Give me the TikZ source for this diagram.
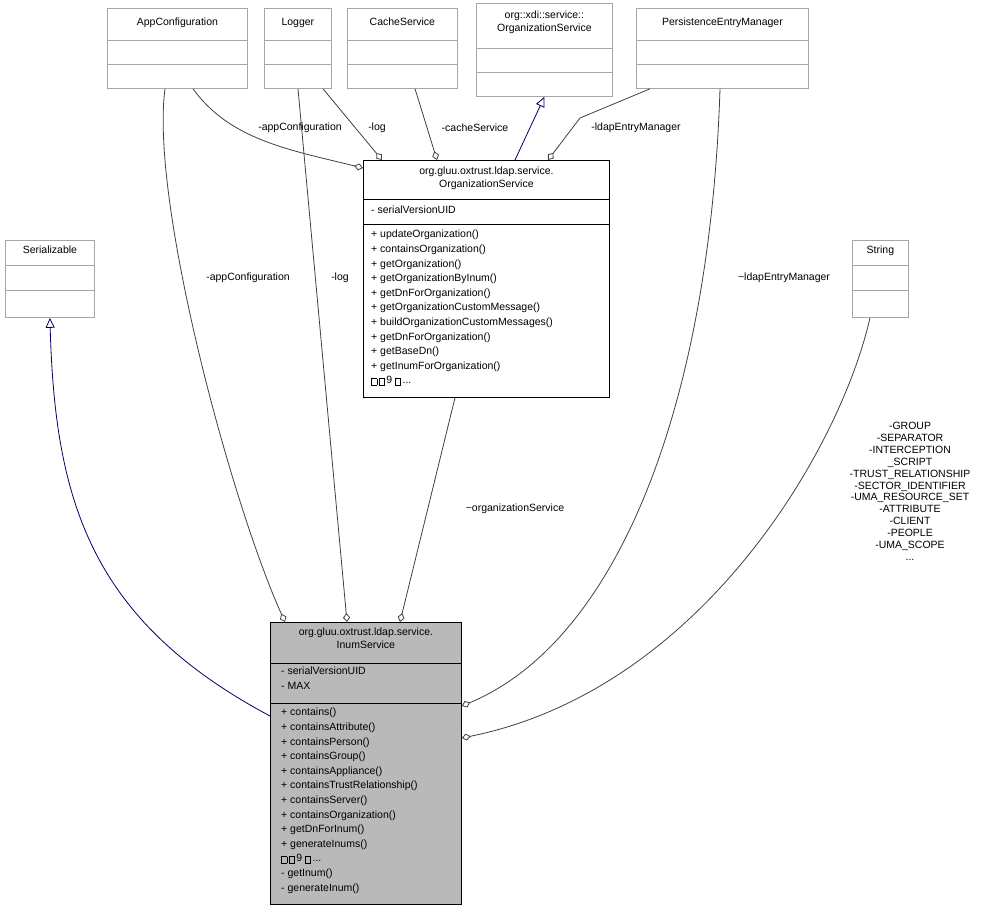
\documentclass[tikz,border=0pt]{standalone}
\usepackage{fontspec}
\setmainfont{Liberation Sans}
\usetikzlibrary{arrows.meta,positioning,calc}
\tikzset{
cls/.style={draw=gray!70,line width=0.8pt,anchor=north west,inner sep=0pt},
mcls/.style={draw=black,line width=0.8pt,anchor=north west,inner sep=0pt},
ttl/.style={anchor=north,align=center,inner sep=1pt,font=\fontsize{10.5}{12.5}\selectfont},
mem/.style={anchor=north west,align=left,inner sep=1pt,font=\fontsize{10.5}{14.6}\selectfont},
lbl/.style={align=center,inner sep=1pt,font=\fontsize{10.5}{11.9}\selectfont},
agg/.style={draw=black!75,line width=0.8pt,{Diamond[open,length=9pt,width=7pt]}-},
inh/.style={draw=blue!40!black,line width=0.8pt,{Triangle[open,length=10pt,width=9pt]}-},
}
\newcommand{\gl}{\fbox{\rule{0pt}{4pt}\hspace{3pt}}\,}
\setlength{\fboxsep}{1pt}
\setlength{\fboxrule}{0.4pt}
\begin{document}
\begin{tikzpicture}[x=1pt,y=-1pt]
\useasboundingbox (0,0) rectangle (990,911);
% classes on the top row
\node[cls,minimum width=140,minimum height=80] (app) at (107,8) {};
\node[cls,minimum width=67,minimum height=80] (logger) at (264,8) {};
\node[cls,minimum width=110,minimum height=80] (cache) at (347,8) {};
\node[cls,minimum width=136,minimum height=93] (xdi) at (476,3) {};
\node[cls,minimum width=172,minimum height=80] (pem) at (636,8) {};
\node[cls,minimum width=89,minimum height=77] (ser) at (5,240) {};
\node[cls,minimum width=56,minimum height=77] (str) at (852,240) {};
\foreach \n/\a/\b in {app/40/64,logger/40/64,cache/40/64,pem/40/64,ser/265/290,str/265/290,xdi/48/72}
  {\draw[gray!70,line width=0.8pt] (\n.west |- 0,\a) -- (\n.east |- 0,\a);
   \draw[gray!70,line width=0.8pt] (\n.west |- 0,\b) -- (\n.east |- 0,\b);}
\node[ttl] at (app.north) [yshift=-9pt] {AppConfiguration};
\node[ttl] at (logger.north) [yshift=-9pt] {Logger};
\node[ttl] at (cache.north) [yshift=-9pt] {CacheService};
\node[ttl] at (pem.north) [yshift=-9pt] {PersistenceEntryManager};
\node[ttl] at (xdi.north) [yshift=-7pt] {org::xdi::service::\\OrganizationService};
\node[ttl] at (ser.north) [yshift=-5pt] {Serializable};
\node[ttl] at (str.north) [yshift=-5pt] {String};
% the ldap organization service
\node[mcls,fill=white,minimum width=246,minimum height=237] (org) at (363,160) {};
\draw[line width=0.8pt] (363,199) -- (609,199) (363,224) -- (609,224);
\node[ttl] at (org.north) [yshift=-6pt] {org.gluu.oxtrust.ldap.service.\\OrganizationService};
\node[mem] at (370,205) {- serialVersionUID};
\node[mem] at (370,229) {+ updateOrganization()\\+ containsOrganization()\\+ getOrganization()\\+ getOrganizationByInum()\\+ getDnForOrganization()\\+ getOrganizationCustomMessage()\\+ buildOrganizationCustomMessages()\\+ getDnForOrganization()\\+ getBaseDn()\\+ getInumForOrganization()\\\gl\gl 9 \gl...};
% the inum service
\node[mcls,fill=gray!55,minimum width=191,minimum height=282] (inum) at (270,622) {};
\draw[line width=0.8pt] (270,663) -- (461,663) (270,703) -- (461,703);
\node[ttl] at (inum.north) [yshift=-5pt] {org.gluu.oxtrust.ldap.service.\\InumService};
\node[mem] at (280,666) {- serialVersionUID\\- MAX};
\node[mem] at (280,707) {+ contains()\\+ containsAttribute()\\+ containsPerson()\\+ containsGroup()\\+ containsAppliance()\\+ containsTrustRelationship()\\+ containsServer()\\+ containsOrganization()\\+ getDnForInum()\\+ generateInums()\\\gl\gl 9 \gl...\\- getInum()\\- generateInum()};
% connectors
\draw[inh] (ser.south) .. controls (55,500) and (90,620) .. (inum.west |- 0,716);
\draw[agg] ([xshift=15]inum.north west) .. controls (230,500) and (150,200) .. ([xshift=58]app.south west);
\draw[agg] ([xshift=77]inum.north west) -- ([xshift=34]logger.south west);
\draw[agg] ([xshift=130]inum.north west) -- ([xshift=92]org.south west);
\draw[agg] (inum.east |- 0,706) .. controls (620,640) and (710,400) .. ([xshift=84]pem.south west);
\draw[agg] (inum.east |- 0,738) .. controls (700,690) and (840,450) .. ([xshift=18]str.south west);
\draw[agg] ([yshift=-8]org.north west) .. controls (290,150) and (230,140) .. ([xshift=86]app.south west);
\draw[agg] ([xshift=19]org.north west) -- ([xshift=59]logger.south west);
\draw[agg] ([xshift=74]org.north west) -- ([xshift=68]cache.south west);
\draw[inh] (xdi.south) -- ([xshift=152]org.north west);
\draw[agg] ([xshift=185]org.north west) -- (580,118) -- ([xshift=14]pem.south west);
% labels
\node[lbl] at (248,278) {-appConfiguration};
\node[lbl] at (340,278) {-log};
\node[lbl] at (515,509) {\textasciitilde organizationService};
\node[lbl] at (784,278) {\textasciitilde ldapEntryManager};
\node[lbl] at (300,128) {-appConfiguration};
\node[lbl] at (377,128) {-log};
\node[lbl] at (475,128) {-cacheService};
\node[lbl] at (636,128) {-ldapEntryManager};
\node[lbl,anchor=north] at (910,421) {-GROUP\\-SEPARATOR\\-INTERCEPTION\\\_SCRIPT\\-TRUST\_RELATIONSHIP\\-SECTOR\_IDENTIFIER\\-UMA\_RESOURCE\_SET\\-ATTRIBUTE\\-CLIENT\\-PEOPLE\\-UMA\_SCOPE\\...};
\end{tikzpicture}
\end{document}
